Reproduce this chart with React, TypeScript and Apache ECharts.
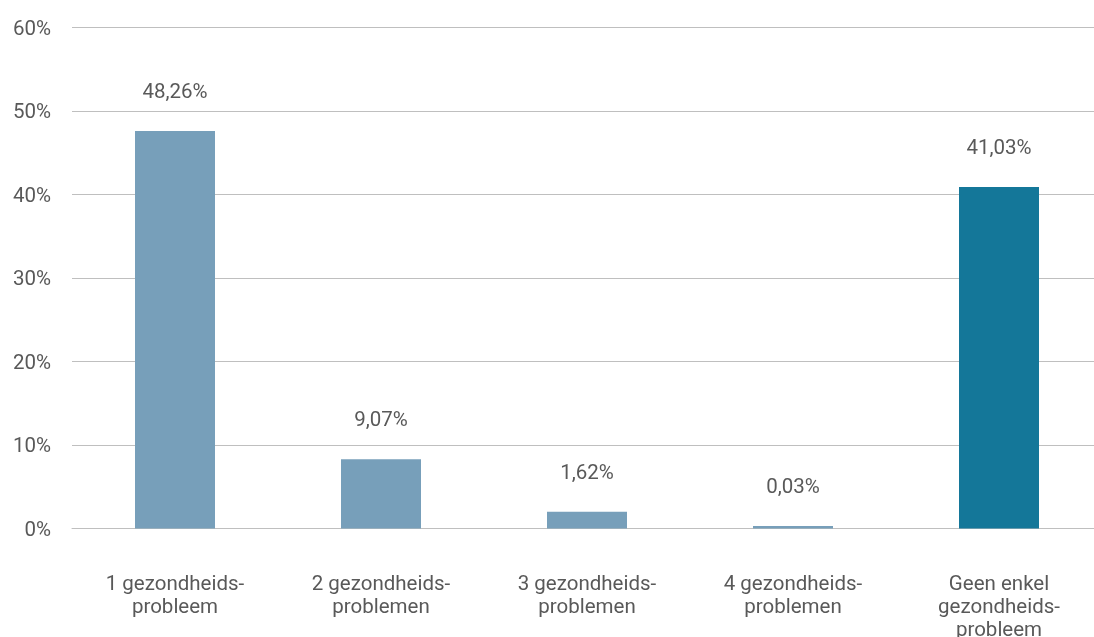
import React, { useEffect, useRef } from "react";
import * as echarts from "echarts";

const categories = [
  "1 gezondheids-\nprobleem",
  "2 gezondheids-\nproblemen",
  "3 gezondheids-\nproblemen",
  "4 gezondheids-\nproblemen",
  "Geen enkel\ngezondheids-\nprobleem",
];
const values = [47.6, 8.3, 2.0, 0.3, 40.9];
const valueLabels = ["48,26%", "9,07%", "1,62%", "0,03%", "41,03%"];
const barColors = ["#779FBA", "#779FBA", "#779FBA", "#779FBA", "#147799"];
const yTicks = [0, 10, 20, 30, 40, 50, 60];

export default function App() {
  const ref = useRef<HTMLDivElement>(null);
  useEffect(() => {
    if (!ref.current) return;
    const chart = echarts.init(ref.current, undefined, { renderer: "svg" });
    const textColor = "#595959";
    chart.setOption({
      animation: false,
      grid: {
        left: 72,
        right: 0,
        top: 27.5,
        bottom: 108.5,
        containLabel: false,
        outerBoundsMode: "none",
      },
      xAxis: {
        type: "category",
        data: categories,
        axisLine: { show: true, lineStyle: { color: "#BFBFBF", width: 1 } },
        axisTick: { show: false },
        axisLabel: {
          color: textColor,
          fontFamily: "Roboto",
          fontSize: 20.5,
          lineHeight: 23,
          margin: 43,
          interval: 0,
          verticalAlign: "top",
        },
      },
      yAxis: {
        type: "value",
        min: yTicks[0],
        max: yTicks[yTicks.length - 1],
        interval: 10,
        axisLine: { show: false },
        axisTick: { show: false },
        splitLine: { lineStyle: { color: "#BFBFBF", width: 1 } },
        axisLabel: {
          color: textColor,
          fontFamily: "Roboto",
          fontSize: 20.5,
          margin: 21,
          formatter: (v: number) => `${v}%`,
        },
      },
      series: [
        {
          type: "bar",
          barWidth: 80,
          data: values.map((v, i) => ({
            value: v,
            itemStyle: { color: barColors[i] },
          })),
          label: {
            show: true,
            position: "top",
            distance: 30,
            color: textColor,
            fontFamily: "Roboto",
            fontSize: 20.5,
            lineHeight: 20,
            formatter: (p: any) => valueLabels[p.dataIndex],
          },
        },
      ],
    });
    return () => chart.dispose();
  }, []);
  return (
    <div
      ref={ref}
      style={{ position: "fixed", left: 0, top: 0, width: 1102, height: 637 }}
    />
  );
}
